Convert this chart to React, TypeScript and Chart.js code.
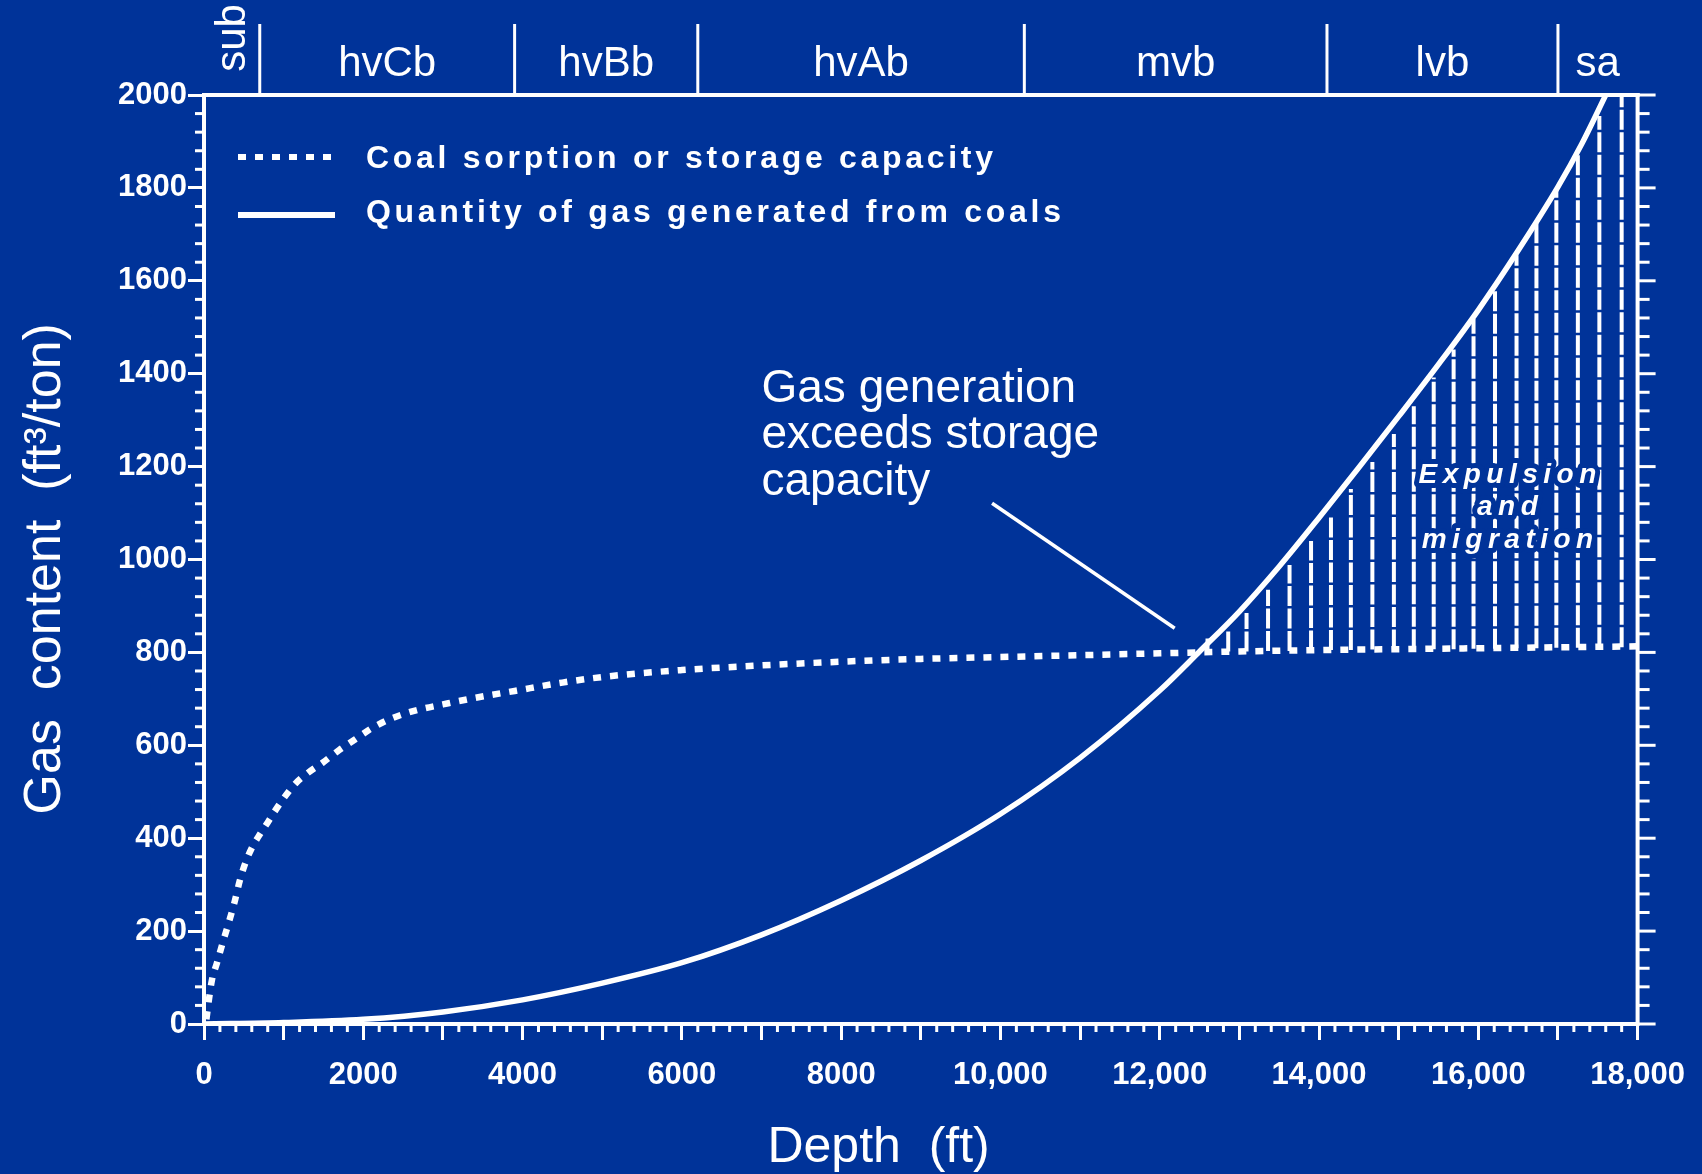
import React, { useEffect, useRef } from 'react';
import { Chart, registerables } from 'chart.js';

Chart.register(...registerables);

const BG = '#003399';
const FG = '#ffffff';
const FONT = '"Liberation Sans", Arial, Helvetica, sans-serif';

// Coal sorption / storage capacity (dashed)
const storageDepth = [30, 60, 100, 160, 230, 300, 380, 450, 520, 600, 700, 800, 900, 1000, 1150, 1300, 1500, 1700, 1900, 2100, 2300, 2500, 2700, 3000, 3400, 3900, 4500, 5000, 6000, 7000, 8000, 9000, 10000, 11000, 12000, 13000, 14000, 15000, 16000, 17000, 18000];
const storageValue = [10, 50, 95, 130, 172, 212, 260, 309, 347, 379, 408, 434, 461, 486, 518, 540, 564, 590, 613, 636, 654, 667, 677, 688, 702, 717, 735, 747, 762, 772, 780, 786, 790, 794, 798, 802, 805, 807, 809, 811, 813];

// Quantity of gas generated from coals (solid)
const generationDepth = [0, 1000, 2000, 3000, 4000, 5000, 6000, 7000, 8000, 9000, 10000, 11000, 12000, 12500, 13000, 13500, 14000, 14500, 15000, 15500, 16000, 16500, 17000, 17300, 17600];
const generationValue = [0, 3, 10, 26, 52, 88, 132, 192, 266, 352, 452, 573, 718, 802, 888, 985, 1090, 1198, 1308, 1420, 1537, 1665, 1802, 1895, 2000];

// Vertical hatch lines (expulsion and migration zone)
const hatchDepth = [12600, 12860, 13090, 13360, 13630, 13900, 14150, 14400, 14670, 14940, 15190, 15440, 15690, 15940, 16210, 16480, 16730, 16980, 17250, 17520, 17800];
const hatchBottom = [800, 802, 802, 803, 803, 804, 805, 805, 806, 806, 807, 807, 807, 808, 808, 809, 809, 810, 810, 811, 811];
const hatchTop = [830, 850, 885, 935, 988, 1040, 1094, 1152, 1210, 1270, 1330, 1392, 1452, 1518, 1580, 1655, 1725, 1800, 1878, 1955, 2000];

// Leader line of the annotation
const leaderDepth = [9895, 12188];
const leaderValue = [1121, 852];

// Coal rank bands along the top
const rankBoundaries = [0, 700, 3900, 6200, 10300, 14100, 17000, 18000];
const rankLabels = ['sub', 'hvCb', 'hvBb', 'hvAb', 'mvb', 'lvb', 'sa'];

// Tick labels
const xTickValues = [0, 2000, 4000, 6000, 8000, 10000, 12000, 14000, 16000, 18000];
const xTickLabels = ['0', '2000', '4000', '6000', '8000', '10,000', '12,000', '14,000', '16,000', '18,000'];
const yTickValues = [0, 200, 400, 600, 800, 1000, 1200, 1400, 1600, 1800, 2000];
const yTickLabels = ['0', '200', '400', '600', '800', '1000', '1200', '1400', '1600', '1800', '2000'];

const xTitle = 'Depth  (ft)';
const yTitle = 'Gas  content  (ft³/ton)';
const legendLabels = ['Coal sorption or storage capacity', 'Quantity of gas generated from coals'];
const annotationLines = ['Gas generation', 'exceeds storage', 'capacity'];
const expulsionLines = ['Expulsion', 'and', 'migration'];

const decorPlugin = {
  id: 'decor',
  afterDatasetsDraw(chart: any) {
    const { ctx, chartArea: ca, scales } = chart;
    const x = scales.x;
    const y = scales.y;
    const line = (x1: number, y1: number, x2: number, y2: number) => {
      ctx.beginPath();
      ctx.moveTo(x1, y1);
      ctx.lineTo(x2, y2);
      ctx.stroke();
    };
    ctx.save();
    ctx.strokeStyle = FG;
    ctx.fillStyle = FG;
    ctx.lineCap = 'butt';

    // top and right frame
    ctx.lineWidth = 4;
    line(ca.left - 2, ca.top, ca.right + 2, ca.top);
    line(ca.right, ca.top - 2, ca.right, ca.bottom + 2);

    // minor ticks and right ticks
    ctx.lineWidth = 3;
    for (let v = 0; v <= 2000; v += 40) {
      const py = y.getPixelForValue(v);
      const major = v % 200 === 0;
      if (!major) line(ca.left - 9, py, ca.left, py);
      line(ca.right, py, ca.right + (major ? 18 : 12), py);
    }
    for (let d = 0; d <= 18000; d += 200) {
      if (d % 1000 === 0) continue;
      const px = x.getPixelForValue(d);
      line(px, ca.bottom, px, ca.bottom + 8);
    }

    // rank bands
    ctx.lineWidth = 3;
    for (let i = 1; i < rankBoundaries.length - 1; i++) {
      const px = x.getPixelForValue(rankBoundaries[i]);
      line(px, ca.top, px, 24);
    }
    ctx.font = `42px ${FONT}`;
    ctx.textAlign = 'center';
    ctx.textBaseline = 'alphabetic';
    for (let i = 0; i < rankLabels.length; i++) {
      const cx = x.getPixelForValue((rankBoundaries[i] + rankBoundaries[i + 1]) / 2);
      if (rankLabels[i] === 'sub') {
        ctx.save();
        ctx.translate(cx + 13, 38);
        ctx.rotate(-Math.PI / 2);
        ctx.fillText(rankLabels[i], 0, 0);
        ctx.restore();
      } else {
        ctx.fillText(rankLabels[i], cx, 76);
      }
    }

    // axis titles
    ctx.font = `50px ${FONT}`;
    ctx.textAlign = 'center';
    ctx.fillText(xTitle, x.getPixelForValue(8470), ca.bottom + 138);
    ctx.save();
    ctx.translate(60, y.getPixelForValue(980));
    ctx.rotate(-Math.PI / 2);
    ctx.font = `52px ${FONT}`;
    ctx.fillText(yTitle, 0, 0);
    ctx.restore();

    // legend
    const lx0 = ca.left + 34;
    const lx1 = ca.left + 131;
    ctx.lineWidth = 6;
    ctx.setLineDash([8, 9]);
    line(lx0, 157, lx1, 157);
    ctx.setLineDash([]);
    line(lx0, 215, lx1, 215);
    ctx.font = `bold 32px ${FONT}`;
    ctx.textAlign = 'left';
    (ctx as any).letterSpacing = '3.7px';
    ctx.fillText(legendLabels[0], ca.left + 162, 168);
    ctx.fillText(legendLabels[1], ca.left + 162, 222);
    (ctx as any).letterSpacing = '0px';

    // annotation text
    ctx.font = `46px ${FONT}`;
    const ax = x.getPixelForValue(7000);
    const ay = y.getPixelForValue(1340);
    annotationLines.forEach((t, i) => ctx.fillText(t, ax, ay + i * 46.5));

    // expulsion and migration
    ctx.font = `italic bold 28px ${FONT}`;
    (ctx as any).letterSpacing = '5.5px';
    ctx.textAlign = 'center';
    const ex = x.getPixelForValue(16400);
    const ey = y.getPixelForValue(1165);
    expulsionLines.forEach((t, i) => {
      ctx.lineWidth = 10;
      ctx.lineJoin = 'round';
      ctx.strokeStyle = BG;
      ctx.strokeText(t, ex, ey + i * 32.5);
      ctx.fillText(t, ex, ey + i * 32.5);
    });
    (ctx as any).letterSpacing = '0px';
    ctx.restore();
  },
};

export default function App() {
  const ref = useRef<HTMLCanvasElement>(null);
  useEffect(() => {
    const canvas = ref.current;
    if (!canvas) return;
    const hatchData: any[] = [];
    hatchDepth.forEach((d, i) => {
      hatchData.push({ x: d, y: hatchBottom[i] });
      hatchData.push({ x: d, y: hatchTop[i] });
      hatchData.push({ x: d, y: null });
    });
    const tickFont = { family: FONT, size: 31, weight: 'bold' as const };
    const chart = new Chart(canvas, {
      type: 'line',
      data: {
        datasets: [
          {
            label: legendLabels[1],
            data: generationDepth.map((d, i) => ({ x: d, y: generationValue[i] })),
            borderColor: FG,
            borderWidth: 5.5,
            pointRadius: 0,
            cubicInterpolationMode: 'monotone',
            fill: false,
          },
          {
            label: legendLabels[0],
            data: storageDepth.map((d, i) => ({ x: d, y: storageValue[i] })),
            borderColor: FG,
            borderWidth: 6.5,
            borderDash: [8, 9],
            borderCapStyle: 'butt',
            pointRadius: 0,
            cubicInterpolationMode: 'monotone',
            fill: false,
          },
          {
            label: 'leader',
            data: leaderDepth.map((d, i) => ({ x: d, y: leaderValue[i] })),
            borderColor: FG,
            borderWidth: 3.5,
            pointRadius: 0,
            tension: 0,
            fill: false,
          },
          {
            label: 'hatch',
            data: hatchData,
            borderColor: FG,
            borderWidth: 4,
            borderDash: [20, 2.5],
            pointRadius: 0,
            tension: 0,
            spanGaps: false,
            fill: false,
          },
        ] as any,
      },
      options: {
        responsive: false,
        animation: false,
        devicePixelRatio: 1,
        layout: { padding: { top: 95, right: 59, left: 0, bottom: 0 } },
        plugins: { legend: { display: false }, tooltip: { enabled: false } },
        scales: {
          x: {
            type: 'linear',
            min: 0,
            max: 18000,
            afterFit: (s: any) => { s.height = 150; },
            ticks: {
              stepSize: 1000,
              autoSkip: false,
              maxRotation: 0,
              minRotation: 0,
              color: FG,
              font: tickFont,
              padding: 17,
              callback: (v: any) => {
                const i = xTickValues.indexOf(Number(v));
                return i >= 0 ? xTickLabels[i] : '';
              },
            },
            grid: { drawOnChartArea: false, color: FG, lineWidth: 3, tickLength: 16, tickWidth: 3, tickColor: FG },
            border: { display: true, color: FG, width: 4 },
            title: { display: false, text: xTitle },
          },
          y: {
            type: 'linear',
            min: 0,
            max: 2000,
            afterFit: (s: any) => { s.width = 204; },
            ticks: {
              stepSize: 200,
              color: FG,
              font: tickFont,
              padding: 1,
              callback: (v: any) => {
                const i = yTickValues.indexOf(Number(v));
                return i >= 0 ? yTickLabels[i] : '';
              },
            },
            grid: { drawOnChartArea: false, color: FG, lineWidth: 3, tickLength: 16, tickWidth: 3, tickColor: FG },
            border: { display: true, color: FG, width: 4 },
            title: { display: false, text: yTitle },
          },
        },
      } as any,
      plugins: [decorPlugin],
    });
    return () => chart.destroy();
  }, []);
  return (
    <div style={{ position: 'absolute', left: 0, top: 0, width: 1702, height: 1174, background: BG, overflow: 'hidden' }}>
      <canvas ref={ref} width={1702} height={1174} style={{ display: 'block', width: 1702, height: 1174 }} />
    </div>
  );
}
